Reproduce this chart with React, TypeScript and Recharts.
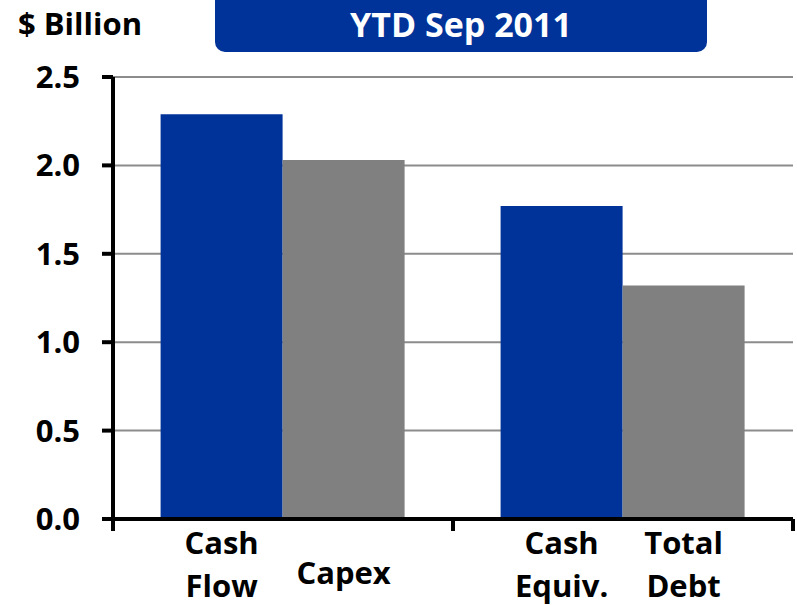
import { BarChart, Bar, XAxis, YAxis, CartesianGrid, LabelList } from "recharts";

const groups = ["Operations", "Balance Sheet"];
const blueValues = [2.29, 1.77];
const grayValues = [2.03, 1.32];
const blueLabels = ["Cash\nFlow", "Cash\nEquiv."];
const grayLabels = ["Capex", "Total\nDebt"];
const yTicks = [0, 0.5, 1.0, 1.5, 2.0, 2.5];

const BLUE = "#003399";
const GRAY = "#808080";
const FONT = "'Open Sans', Lato, sans-serif";

const data = groups.map((g, i) => ({
  group: g,
  blue: blueValues[i],
  gray: grayValues[i]
}));

// two-line category names sit under each bar
function makeBarLabel(labels: string[]) {
  return (props: any) => {
    const vb = props.viewBox ?? props;
    const { x, y, width, height } = vb;
    const idx = props.index ?? 0;
    const lines = (labels[idx] || "").split("\n");
    const cx = x + width / 2;
    const base = y + height;
    const offsets = lines.length === 1 ? [65] : [35, 78];
    return (
      <g>
        {lines.map((t, k) => (
          <text
            key={k}
            x={cx}
            y={base + offsets[k]}
            textAnchor="middle"
            fontFamily={FONT}
            fontWeight={700}
            fontSize={31}
            fill="#000"
          >
            {t}
          </text>
        ))}
      </g>
    );
  };
}

// tick marks at the category boundaries instead of the centres
function BoundaryTick(props: any) {
  const { x, y, payload, index, width, visibleTicksCount } = props;
  const half = payload?.offset ?? width / visibleTicksCount / 2;
  const last = index === visibleTicksCount - 1;
  return (
    <g>
      <line x1={x - half} x2={x - half} y1={y} y2={y + 12} stroke="#000" strokeWidth={4} />
      {last && <line x1={x + half} x2={x + half} y1={y} y2={y + 12} stroke="#000" strokeWidth={4} />}
    </g>
  );
}

export default function App() {
  return (
    <div style={{ position: "absolute", left: 0, top: 0, width: 797, height: 605, background: "#fff" }}>
      <BarChart
        width={797}
        height={605}
        data={data}
        margin={{ top: 77, right: 4, left: 0, bottom: 0 }}
        barCategoryGap="14%"
        barGap={0}
      >
        <CartesianGrid vertical={false} stroke="#8c8c8c" strokeWidth={2} />
        <XAxis
          dataKey="group"
          height={86}
          axisLine={{ stroke: "#000", strokeWidth: 4 }}
          tickLine={false}
          tickSize={0}
          tickMargin={0}
          tick={<BoundaryTick />}
          interval={0}
        />
        <YAxis
          width={113}
          domain={[0, 2.5]}
          ticks={yTicks}
          tickFormatter={(v: number) => v.toFixed(1)}
          axisLine={{ stroke: "#000", strokeWidth: 4 }}
          tickLine={{ stroke: "#000", strokeWidth: 4 }}
          tickSize={11}
          tickMargin={22}
          tick={{ fill: "#000", fontSize: 31, fontWeight: 700, fontFamily: FONT }}
        />
        <Bar dataKey="blue" fill={BLUE} isAnimationActive={false}>
          <LabelList dataKey="blue" content={makeBarLabel(blueLabels)} />
        </Bar>
        <Bar dataKey="gray" fill={GRAY} isAnimationActive={false}>
          <LabelList dataKey="gray" content={makeBarLabel(grayLabels)} />
        </Bar>
      </BarChart>
      <svg width={797} height={605} style={{ position: "absolute", left: 0, top: 0, pointerEvents: "none" }}>
        <text x={18} y={35} fontFamily={FONT} fontWeight={700} fontSize={31} fill="#000">
          $ Billion
        </text>
        <rect x={215} y={-12} width={492} height={64} rx={10} fill={BLUE} />
        <text x={461} y={37} textAnchor="middle" fontFamily={FONT} fontWeight={700} fontSize={34} fill="#fff">
          YTD Sep 2011
        </text>
      </svg>
    </div>
  );
}
